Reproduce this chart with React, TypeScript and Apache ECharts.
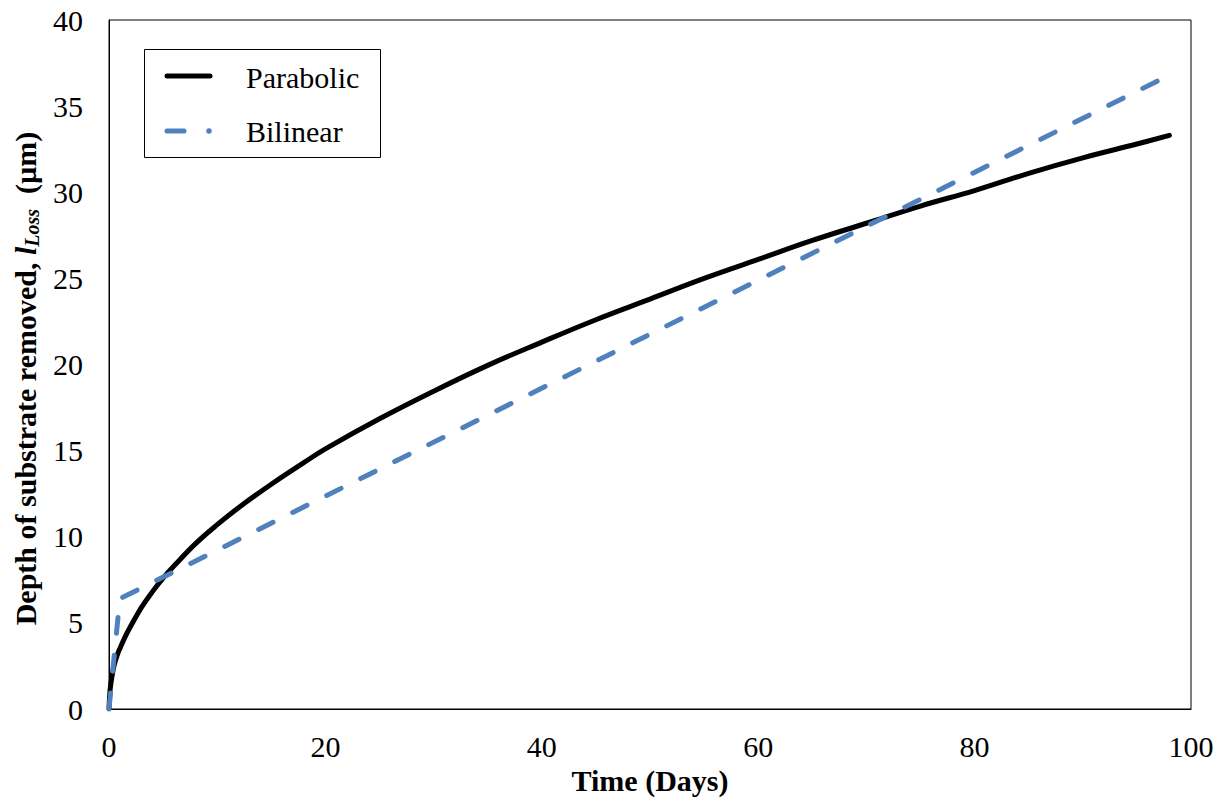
import React, { useEffect, useRef } from "react";
import * as echarts from "echarts";

const FONT = "Liberation Serif, Times New Roman, serif";

const parabolicT = [0, 0.1, 0.25, 0.5, 0.8, 1, 1.5, 2, 3, 4, 5, 6, 8, 10, 12, 15, 18, 20, 25, 30, 35, 40, 45, 50, 55, 60, 65, 70, 75, 80, 85, 90, 95, 98];
const parabolicY = [0, 1.1, 1.8, 2.6, 3.2, 3.5, 4.2, 4.8, 5.9, 6.8, 7.6, 8.3, 9.6, 10.7, 11.7, 13.05, 14.3, 15.1, 16.85, 18.45, 19.95, 21.3, 22.6, 23.8, 25.0, 26.1, 27.2, 28.2, 29.2, 30.1, 31.1, 32.0, 32.8, 33.3];

const bilinearT = [0, 1, 98];
const bilinearY = [0, 6.4, 36.8];

const xTicks = { min: 0, max: 100, interval: 20 };
const yTicks = { min: 0, max: 40, interval: 5 };

const seriesNames = ["Parabolic", "Bilinear"];

export default function App() {
  const ref = useRef<HTMLDivElement>(null);
  useEffect(() => {
    if (!ref.current) return;
    const chart = echarts.init(ref.current, null, { renderer: "svg" });
    const zip = (a: number[], b: number[]) => a.map((v, i) => [v, b[i]]);
    chart.setOption({
      animation: false,
      backgroundColor: "#fff",
      textStyle: { fontFamily: FONT },
      grid: {
        left: 109,
        top: 20,
        right: 39,
        bottom: 97,
        show: true,
        borderColor: "#000",
        borderWidth: 1,
        containLabel: false,
        outerBoundsMode: "none",
      },
      xAxis: {
        type: "value",
        min: xTicks.min,
        max: xTicks.max,
        interval: xTicks.interval,
        name: "Time (Days)",
        nameLocation: "middle",
        nameGap: 49,
        nameTextStyle: { fontFamily: FONT, fontSize: 30, fontWeight: "bold", color: "#000" },
        axisLine: { show: true, lineStyle: { color: "#000", width: 1 } },
        axisTick: { show: false },
        splitLine: { show: false },
        axisLabel: { fontFamily: FONT, fontSize: 30, color: "#000", margin: 22 },
      },
      yAxis: {
        type: "value",
        min: yTicks.min,
        max: yTicks.max,
        interval: yTicks.interval,
        name: "{b|Depth of substrate removed, }{bi|l}{sub|Loss}{b|  (µm)}",
        nameLocation: "middle",
        nameGap: 67,
        nameRotate: 90,
        nameTextStyle: {
          fontFamily: FONT,
          fontSize: 30,
          color: "#000",
          padding: [0, 28, 0, 0],
          rich: {
            b: { fontFamily: FONT, fontSize: 30, fontWeight: "bold", color: "#000", lineHeight: 30 },
            bi: { fontFamily: FONT, fontSize: 30, fontWeight: "bold", fontStyle: "italic", color: "#000", lineHeight: 30 },
            sub: { fontFamily: FONT, fontSize: 20, fontStyle: "italic", fontWeight: "bold", color: "#000", lineHeight: 20, padding: [14, 0, 0, 0] },
          },
        },
        axisLine: { show: true, lineStyle: { color: "#000", width: 1 } },
        axisTick: { show: false },
        splitLine: { show: false },
        axisLabel: { fontFamily: FONT, fontSize: 30, color: "#000", margin: 26 },
      },
      series: [
        {
          name: seriesNames[0],
          type: "line",
          data: zip(parabolicT, parabolicY),
          showSymbol: false,
          symbol: "none",
          smooth: 0.4,
          lineStyle: { color: "#000", width: 5, cap: "round", join: "round" },
          z: 2,
        },
        {
          name: seriesNames[1],
          type: "line",
          data: zip(bilinearT, bilinearY),
          showSymbol: false,
          symbol: "none",
          lineStyle: { color: "#4F81BD", width: 5, type: [16, 22], cap: "round", join: "round" },
          z: 3,
        },
      ],
      graphic: [
        {
          type: "group",
          z: 100,
          children: [
            { type: "rect", shape: { x: 144.5, y: 49.5, width: 236, height: 108 }, style: { fill: "#fff", stroke: "#000", lineWidth: 1 } },
            { type: "line", shape: { x1: 167, y1: 76, x2: 210, y2: 76 }, style: { stroke: "#000", lineWidth: 5, lineCap: "round" } },
            { type: "line", shape: { x1: 167, y1: 131, x2: 184, y2: 131 }, style: { stroke: "#4F81BD", lineWidth: 5, lineCap: "round" } },
            { type: "circle", shape: { cx: 209, cy: 131, r: 2.8 }, style: { fill: "#4F81BD" } },
            { type: "text", x: 246, y: 77, style: { text: seriesNames[0], fontFamily: FONT, fontSize: 30, fill: "#000", verticalAlign: "middle", align: "left" } },
            { type: "text", x: 246, y: 131, style: { text: seriesNames[1], fontFamily: FONT, fontSize: 30, fill: "#000", verticalAlign: "middle", align: "left" } },
          ],
        },
      ],
    });
    return () => chart.dispose();
  }, []);
  return <div ref={ref} style={{ position: "fixed", left: 0, top: 0, width: 1230, height: 806 }} />;
}
